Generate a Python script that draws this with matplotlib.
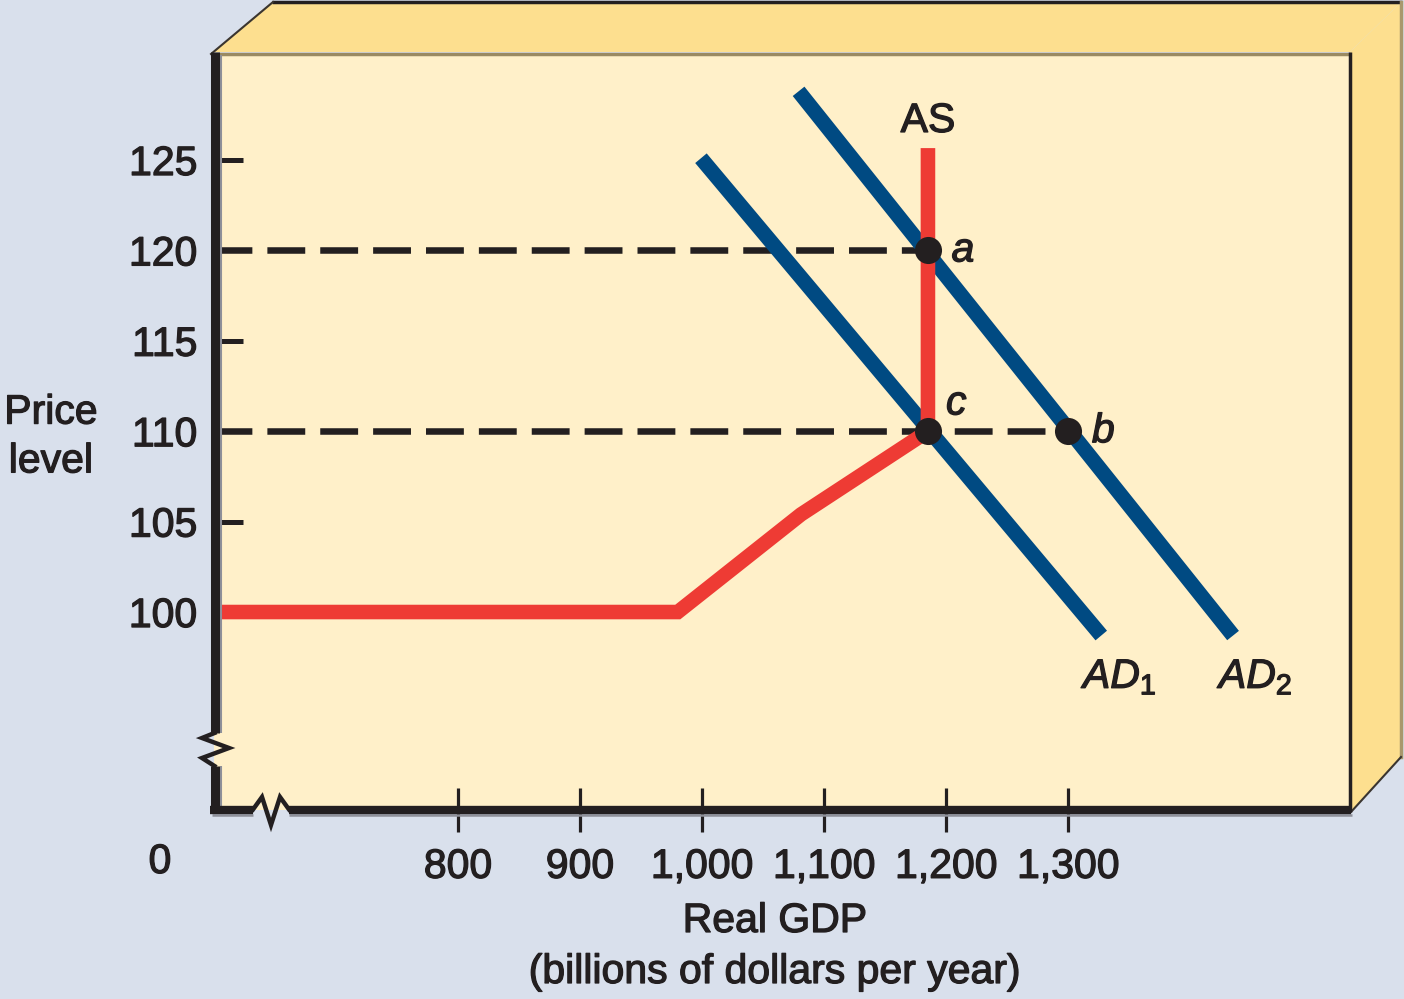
import matplotlib
matplotlib.use('Agg')
import matplotlib.pyplot as plt
import matplotlib.patheffects as pe
from matplotlib.patches import Polygon
from matplotlib.ticker import FixedLocator, FuncFormatter

plt.rcParams['font.family'] = ['Liberation Sans', 'DejaVu Sans']
plt.rcParams['mathtext.fontset'] = 'custom'
plt.rcParams['mathtext.rm'] = 'Liberation Sans'
plt.rcParams['mathtext.it'] = 'Liberation Sans:italic'

# ---------------- data ----------------
x_ticks = [800, 900, 1000, 1100, 1200, 1300]
y_ticks = [100, 105, 110, 115, 120, 125]
x_lim = (600, 1530)
y_lim = (89.05, 130.92)

as_x = [600, 980, 1081, 1185, 1185]
as_y = [100, 100, 105.4, 110, 125.66]

ad1_x = [999, 1327]
ad1_y = [125.1, 98.7]
ad2_x = [1079, 1435]
ad2_y = [128.8, 98.7]

pt_x = [1185, 1300, 1185]
pt_y = [120, 110, 110]
pt_labels = ['a', 'b', 'c']

# ---------------- colours ----------------
BG = '#d9e0ec'
FRONT = '#fff0c9'
SIDE = '#fddf8f'
RED = '#ee3b34'
BLUE = '#004a82'
BLACK = '#231f20'
SHADOW = '#8e9099'

W, H = 1404, 999
FS = 29.5
EFF = [pe.withStroke(linewidth=0.9, foreground=BLACK)]
fig = plt.figure(figsize=(W / 100, H / 100), dpi=100, facecolor=BG)

# background decoration axes (pixel coordinates)
bg = fig.add_axes([0, 0, 1, 1], zorder=0)
bg.set_xlim(0, W); bg.set_ylim(H, 0); bg.axis('off')
bg.add_patch(Polygon([(213, 52), (272, 2), (1401, 2), (1350, 52)], closed=True,
                     facecolor=SIDE, edgecolor='none'))
bg.add_patch(Polygon([(1350, 52), (1401, 2), (1401, 757), (1351, 812)], closed=True,
                     facecolor=SIDE, edgecolor='none'))
bg.plot([272, 1402], [1.5, 1.5], color=BLACK, lw=2.5, solid_capstyle='butt')
bg.plot([211, 273], [54, 2], color='#3a3530', lw=1.5)
bg.plot([1400.5, 1400.5], [2, 757], color='#a8986c', lw=2.5)
bg.plot([1401, 1351], [757, 812], color='#3a3530', lw=1.5)

# main axes
L, R, T, B = 214, 1349, 53, 810
ax = fig.add_axes([L / W, 1 - B / H, (R - L) / W, (B - T) / H], zorder=2)
ax.set_facecolor(FRONT)
ax.set_xlim(*x_lim)
ax.set_ylim(*y_lim)
for s in ax.spines.values():
    s.set_visible(False)

ax.xaxis.set_major_locator(FixedLocator(x_ticks))
ax.yaxis.set_major_locator(FixedLocator(y_ticks))
ax.xaxis.set_major_formatter(FuncFormatter(lambda v, p: f'{int(v):,}'))
ax.yaxis.set_major_formatter(FuncFormatter(lambda v, p: f'{int(v)}'))
ax.tick_params(axis='y', direction='in', length=21, width=3.6, color=BLACK,
               labelsize=FS, pad=12, labelcolor=BLACK)
ax.tick_params(axis='x', direction='inout', length=31.5, width=2.3, color=BLACK,
               labelsize=FS, pad=11.5, labelcolor=BLACK)
for lab in ax.get_xticklabels() + ax.get_yticklabels():
    lab.set_path_effects(EFF)

# dashed guide lines
for xv, yv in [(pt_x[0], pt_y[0]), (pt_x[1], pt_y[1])]:
    ax.plot([x_lim[0], xv], [yv, yv], color=BLACK, lw=4.7,
            dashes=(5.8, 2.3), dash_capstyle='butt', zorder=2)

# curves
ax.plot(ad1_x, ad1_y, color=BLUE, lw=10.8, solid_capstyle='butt', zorder=3)
ax.plot(ad2_x, ad2_y, color=BLUE, lw=10.8, solid_capstyle='butt', zorder=3)
ax.plot(as_x, as_y, color=RED, lw=10.5, solid_capstyle='butt',
        solid_joinstyle='miter', zorder=4)
ax.plot(pt_x, pt_y, 'o', color=BLACK, ms=19.5, mew=0, zorder=5)

# labels
txt = dict(fontsize=FS, color=BLACK, path_effects=EFF)
ax.text(as_x[-1], as_y[-1] + 1.5, 'AS', ha='center', va='center', **txt)
ax.annotate(pt_labels[0], (pt_x[0], pt_y[0]), xytext=(17, 0), textcoords='offset points',
            ha='left', va='center', style='italic', **txt)
ax.annotate(pt_labels[1], (pt_x[1], pt_y[1]), xytext=(17, 0), textcoords='offset points',
            ha='left', va='center', style='italic', **txt)
ax.annotate(pt_labels[2], (pt_x[2], pt_y[2]), xytext=(13, 20), textcoords='offset points',
            ha='left', va='center', style='italic', **txt)
ax.annotate(r'$\mathit{AD}_{\mathrm{1}}$', (ad1_x[1], ad1_y[1]), xytext=(14, -30),
            textcoords='offset points', ha='center', va='center', **txt)
ax.annotate(r'$\mathit{AD}_{\mathrm{2}}$', (ad2_x[1], ad2_y[1]), xytext=(17, -30),
            textcoords='offset points', ha='center', va='center', **txt)

# axis titles
fig.text(51 / W, 1 - 437 / H, 'Price\nlevel', ha='center', va='center',
         linespacing=1.36, **txt)
fig.text(160 / W, 1 - 862 / H, '0', ha='center', va='center', **txt)
fig.text(775 / W, 1 - 921 / H, 'Real GDP', ha='center', va='center', **txt)
fig.text(775 / W, 1 - 972 / H, '(billions of dollars per year)', ha='center',
         va='center', **txt)

# foreground decoration: axis lines with break marks, box edges
fg = fig.add_axes([0, 0, 1, 1], zorder=6)
fg.set_xlim(0, W); fg.set_ylim(H, 0); fg.axis('off'); fg.patch.set_alpha(0)
fg.plot([213, 1350], [53.5, 53.5], color='#9a8a62', lw=2.5, solid_capstyle='butt')
fg.plot([1349.5, 1349.5], [52, 812], color=BLACK, lw=2.5, solid_capstyle='butt')
# shadows of the axis lines
fg.plot([220.5, 220.5], [55, 733], color=SHADOW, lw=1.5, solid_capstyle='butt')
fg.plot([220.5, 220.5], [766, 806], color=SHADOW, lw=1.5, solid_capstyle='butt')
fg.plot([212, 253], [814.5, 814.5], color=SHADOW, lw=1.8, solid_capstyle='butt')
fg.plot([289, 1352], [814.5, 814.5], color=SHADOW, lw=1.8, solid_capstyle='butt')
# axis lines
fg.plot([214.5, 214.5], [52, 733], color=BLACK, lw=6.5, solid_capstyle='butt')
fg.plot([214.5, 214.5], [766, 813], color=BLACK, lw=6.5, solid_capstyle='butt')
fg.plot([214.5, 202, 229, 202, 214.5], [733, 738, 748, 758, 766], color=BLACK,
        lw=3.2, solid_joinstyle='miter')
fg.plot([210, 253], [809.5, 809.5], color=BLACK, lw=6, solid_capstyle='butt')
fg.plot([289, 1351], [809.5, 809.5], color=BLACK, lw=6, solid_capstyle='butt')
fg.plot([253, 262, 271, 280, 289], [809.5, 797, 825, 797, 809.5], color=BLACK,
        lw=3.2, solid_joinstyle='miter')

fig.savefig('out.png', dpi=100, facecolor=BG)
